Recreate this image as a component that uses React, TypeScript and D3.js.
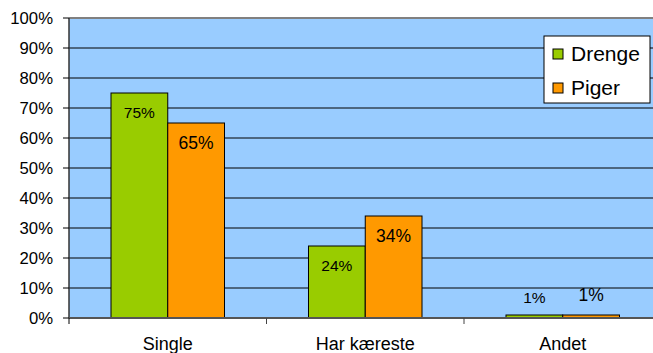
import React, { useRef, useEffect } from 'react';
import * as d3 from 'd3';

const categories = ['Single', 'Har kæreste', 'Andet'];
const seriesNames = ['Drenge', 'Piger'];
const drenge = [75, 24, 1];
const piger = [65, 34, 1];
const yTicks = [0, 10, 20, 30, 40, 50, 60, 70, 80, 90, 100];

const colors = ['#99CC00', '#FF9900'];
const labelSizes = [15.5, 17.5];

const App: React.FC = () => {
  const svgRef = useRef<SVGSVGElement | null>(null);

  useEffect(() => {
    const svg = d3.select(svgRef.current);
    svg.selectAll('*').remove();

    const left = 69;
    const right = 661.5;
    const top = 18;
    const bottom = 318;
    const font = 'Arial, "Liberation Sans", sans-serif';

    const x = d3.scaleBand<string>().domain(categories).range([left, right]);
    const inner = d3.scaleBand<string>()
      .domain(seriesNames)
      .range([0, x.bandwidth()])
      .paddingOuter(0.74)
      .paddingInner(0);
    const y = d3.scaleLinear().domain([0, 100]).range([bottom, top]);

    // plot background
    svg.append('rect')
      .attr('x', left).attr('y', top)
      .attr('width', right - left).attr('height', bottom - top)
      .attr('fill', '#99CCFF');

    // gridlines
    svg.append('g')
      .selectAll('line')
      .data(yTicks.filter(t => t > 0 && t < 100))
      .enter().append('line')
      .attr('x1', left).attr('x2', right)
      .attr('y1', d => y(d)).attr('y2', d => y(d))
      .attr('stroke', '#000').attr('stroke-width', 1);

    // top border
    svg.append('line')
      .attr('x1', left).attr('x2', right)
      .attr('y1', top).attr('y2', top)
      .attr('stroke', '#808080').attr('stroke-width', 2);

    const series = [drenge, piger];

    series.forEach((vals, si) => {
      const g = svg.append('g');
      g.selectAll('rect')
        .data(vals)
        .enter().append('rect')
        .attr('x', (d, i) => x(categories[i])! + inner(seriesNames[si])!)
        .attr('y', d => y(d))
        .attr('width', inner.bandwidth())
        .attr('height', d => bottom - y(d))
        .attr('fill', colors[si])
        .attr('stroke', '#000')
        .attr('stroke-width', 1);

      g.selectAll('text')
        .data(vals)
        .enter().append('text')
        .attr('x', (d, i) => x(categories[i])! + inner(seriesNames[si])! + inner.bandwidth() / 2)
        .attr('y', d => {
          const h = bottom - y(d);
          return h < 25 ? y(d) - (si === 0 ? 17 : 20) : y(d) + 20;
        })
        .attr('dy', '0.35em')
        .attr('text-anchor', 'middle')
        .style('font-family', font)
        .style('font-size', `${labelSizes[si]}px`)
        .attr('fill', '#000')
        .text(d => `${d}%`);
    });

    // y axis
    const yAxis = svg.append('g');
    yAxis.append('line')
      .attr('x1', left).attr('x2', left)
      .attr('y1', top).attr('y2', bottom)
      .attr('stroke', '#333').attr('stroke-width', 1.5);
    yAxis.selectAll('line.tick')
      .data(yTicks)
      .enter().append('line')
      .attr('class', 'tick')
      .attr('x1', left - 6).attr('x2', left)
      .attr('y1', d => y(d)).attr('y2', d => y(d))
      .attr('stroke', '#000');
    yAxis.selectAll('text')
      .data(yTicks)
      .enter().append('text')
      .attr('x', 53)
      .attr('y', d => y(d))
      .attr('dy', '0.35em')
      .attr('text-anchor', 'end')
      .style('font-family', font)
      .style('font-size', '16.7px')
      .attr('fill', '#000')
      .text(d => `${d}%`);

    // x axis
    const xAxis = svg.append('g');
    xAxis.append('line')
      .attr('x1', left).attr('x2', right)
      .attr('y1', bottom).attr('y2', bottom)
      .attr('stroke', '#555').attr('stroke-width', 2);
    xAxis.selectAll('line.tick')
      .data(categories.slice(1))
      .enter().append('line')
      .attr('class', 'tick')
      .attr('x1', d => x(d)!).attr('x2', d => x(d)!)
      .attr('y1', bottom).attr('y2', bottom + 6)
      .attr('stroke', '#444');
    xAxis.append('line')
      .attr('x1', left).attr('x2', left)
      .attr('y1', bottom).attr('y2', bottom + 6)
      .attr('stroke', '#000');
    xAxis.selectAll('text')
      .data(categories)
      .enter().append('text')
      .attr('x', d => x(d)! + x.bandwidth() / 2)
      .attr('y', 350)
      .attr('text-anchor', 'middle')
      .style('font-family', font)
      .style('font-size', '18px')
      .attr('fill', '#000')
      .text(d => d);

    // legend
    const legend = svg.append('g').attr('transform', 'translate(544,36)');
    legend.append('rect')
      .attr('x', 0).attr('y', 0).attr('width', 106).attr('height', 67)
      .attr('fill', '#fff').attr('stroke', '#000').attr('stroke-width', 1);
    seriesNames.forEach((name, i) => {
      const cy = 18 + i * 34;
      legend.append('rect')
        .attr('x', 9).attr('y', cy - 5).attr('width', 10).attr('height', 10)
        .attr('fill', colors[i]).attr('stroke', '#000');
      legend.append('text')
        .attr('x', 27).attr('y', cy)
        .attr('dy', '0.35em')
        .style('font-family', font)
        .style('font-size', '21px')
        .attr('fill', '#000')
        .text(name);
    });
  }, []);

  return (
    <svg
      ref={svgRef}
      width={653}
      height={353}
      style={{ position: 'absolute', left: 0, top: 0, background: '#fff' }}
    />
  );
};

export default App;
